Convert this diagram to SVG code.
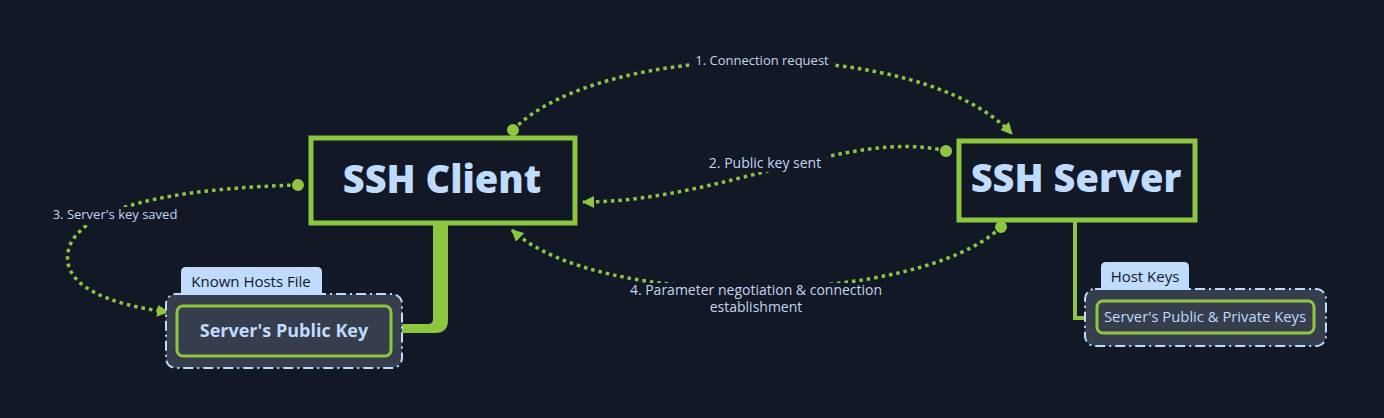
<svg xmlns="http://www.w3.org/2000/svg" width="1384" height="418" viewBox="0 0 1384 418">
<defs>
<style>
.bg{fill:#121826}
.main{fill:#121826;stroke:#8dc63f;stroke-width:5}
.title{font-family:"Open Sans","Noto Sans",sans-serif;font-weight:800;font-size:38px;fill:#bfdbfe;text-anchor:middle}
.grp{fill:#363d4c;stroke:#bfdbfe;stroke-width:2;stroke-dasharray:10 4 2 4}
.tab{fill:#bfdbfe}
.tabtxt{font-family:"Open Sans","Noto Sans",sans-serif;font-size:15px;fill:#111827;text-anchor:middle}
.inner{fill:#363d4c;stroke:#8dc63f;stroke-width:3}
.innertxt{font-family:"Open Sans","Noto Sans",sans-serif;font-size:14.8px;fill:#bfdbfe;text-anchor:middle}
.innerbold{font-family:"Open Sans","Noto Sans",sans-serif;font-weight:700;font-size:18px;fill:#bfdbfe;text-anchor:middle}
.dot{fill:none;stroke:#8dc63f;stroke-width:3.5;stroke-dasharray:3.5 4}
.lbl{font-family:"Open Sans","Noto Sans",sans-serif;font-size:13px;fill:#c5d5ee;text-anchor:middle}
.lbl14{font-size:14px}
.lblbg{fill:#121826}
</style>
<marker id="arr" viewBox="0 0 12 12" refX="11" refY="6" markerWidth="12" markerHeight="12" markerUnits="userSpaceOnUse" orient="auto">
<path d="M0,0 L12,6 L0,12 Z" fill="#8dc63f"/>
</marker>
<marker id="dotm" viewBox="0 0 12 12" refX="6" refY="6" markerWidth="12" markerHeight="12" markerUnits="userSpaceOnUse" orient="auto">
<circle cx="6" cy="6" r="6" fill="#8dc63f"/>
</marker>
</defs>
<rect class="bg" x="0" y="0" width="1384" height="418"/>

<g id="connectors">
<path d="M433,223 L448,223 L448,320 Q448,333 435,333 L392,333 L392,324 L428,324 Q433,324 433,319 Z" fill="#8dc63f"/>
<path d="M1075,221 V318 H1097" fill="none" stroke="#8dc63f" stroke-width="4"/>
<path class="dot" d="M513,130 C600,40 920,35 1012,134" marker-start="url(#dotm)" marker-end="url(#arr)"/>
<path class="dot" d="M946,151 C850,128 720,202 583,202" marker-start="url(#dotm)" marker-end="url(#arr)"/>
<path class="dot" d="M298,185 C200,188 90,200 70,245 C55,285 110,305 168,312" marker-start="url(#dotm)" marker-end="url(#arr)"/>
<path class="dot" d="M1001,227 C920,305 600,312 512,230" marker-start="url(#dotm)" marker-end="url(#arr)"/>
<rect class="lblbg" x="690" y="51" width="142" height="18"/>
<text class="lbl" x="762" y="65">1. Connection request</text>
<rect class="lblbg" x="705" y="154" width="122" height="18"/>
<text class="lbl lbl14" x="765" y="168">2. Public key sent</text>
<rect class="lblbg" x="48" y="207" width="134" height="18"/>
<text class="lbl" x="115" y="219">3. Server's key saved</text>
<rect class="lblbg" x="627" y="283" width="258" height="34"/>
<text class="lbl lbl14" x="756" y="295">4. Parameter negotiation &amp; connection</text>
<text class="lbl lbl14" x="756" y="312">establishment</text>
</g>

<g id="ssh-client">
<rect class="main" x="311" y="138" width="264" height="85"/>
<text class="title" x="442" y="193">SSH Client</text>
</g>

<g id="ssh-server">
<rect class="main" x="959" y="141" width="236" height="79"/>
<text class="title" x="1076" y="192">SSH Server</text>
</g>

<g id="known-hosts-file">
<rect class="grp" x="166" y="294" width="236" height="74" rx="10"/>
<path class="tab" d="M181,295 V272 Q181,267 186,267 H317 Q322,267 322,272 V295 Z"/>
<text class="tabtxt" x="251" y="287">Known Hosts File</text>
<g id="servers-public-key">
<rect class="inner" x="177" y="306" width="214" height="50" rx="6"/>
<text class="innerbold" x="284" y="337">Server's Public Key</text>
</g>
</g>

<g id="host-keys">
<rect class="grp" x="1085" y="289" width="241" height="57" rx="10"/>
<path class="tab" d="M1101,290 V267 Q1101,262 1106,262 H1184 Q1189,262 1189,267 V290 Z"/>
<text class="tabtxt" x="1145" y="282">Host Keys</text>
<g id="servers-public-private-keys">
<rect class="inner" x="1097" y="301" width="217" height="32" rx="6"/>
<text class="innertxt" x="1205" y="322">Server's Public &amp; Private Keys</text>
</g>
</g>
</svg>
